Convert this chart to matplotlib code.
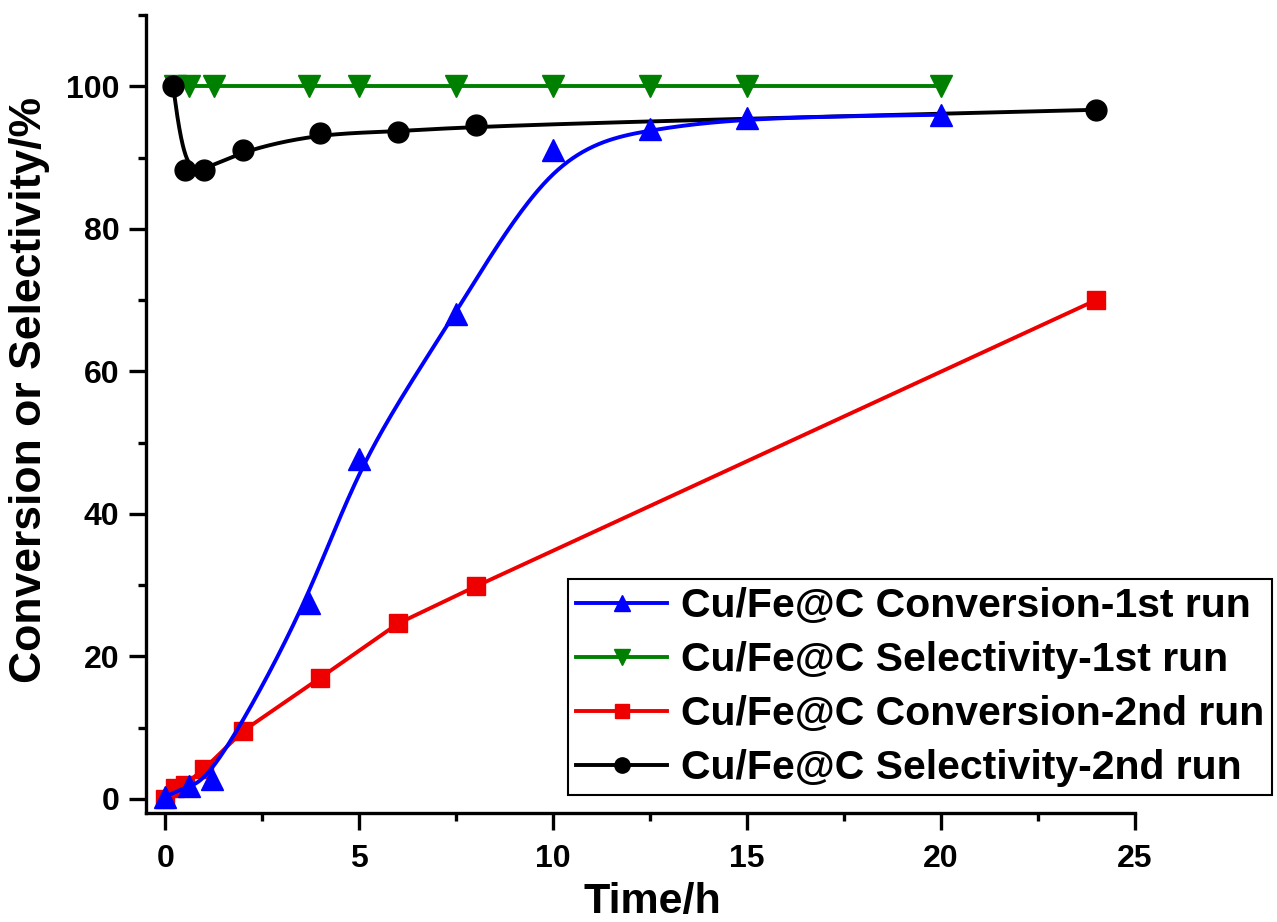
import numpy as np
import matplotlib
matplotlib.use("Agg")
import matplotlib.pyplot as plt
from matplotlib.lines import Line2D

plt.rcParams['font.family'] = ['Liberation Sans', 'DejaVu Sans']
plt.rcParams['font.weight'] = 'bold'

# data
t_conv1 = [0, 0.6, 1.2, 3.7, 5, 7.5, 10, 12.5, 15, 20]
conv1 = [0.3, 1.8, 2.8, 27.5, 47.7, 68, 91, 94, 95.6, 96]

t_sel1 = [0.25, 0.6, 1.25, 3.7, 5, 7.5, 10, 12.5, 15, 20]
sel1 = [100, 100, 100, 100, 100, 100, 100, 100, 100, 100]

t_conv2 = [0, 0.25, 0.5, 1, 2, 4, 6, 8, 24]
conv2 = [0, 1.5, 2.0, 4.2, 9.5, 17, 24.6, 29.8, 70]

t_sel2 = [0.2, 0.5, 1, 2, 4, 6, 8, 24]
sel2 = [100, 88.2, 88.2, 91, 93.4, 93.6, 94.5, 96.7]

labels = ['Cu/Fe@C Conversion-1st run', 'Cu/Fe@C Selectivity-1st run',
          'Cu/Fe@C Conversion-2nd run', 'Cu/Fe@C Selectivity-2nd run']


def bspline(px, py, n=40):
    # clamped uniform cubic B-spline through the end points
    P = np.column_stack([px, py]).astype(float)
    P = np.vstack([P[0], P[0], P, P[-1], P[-1]])
    t = np.linspace(0, 1, n)[:, None]
    b0 = (1 - t) ** 3 / 6
    b1 = (3 * t ** 3 - 6 * t ** 2 + 4) / 6
    b2 = (-3 * t ** 3 + 3 * t ** 2 + 3 * t + 1) / 6
    b3 = t ** 3 / 6
    segs = [b0 * P[i] + b1 * P[i + 1] + b2 * P[i + 2] + b3 * P[i + 3]
            for i in range(len(P) - 3)]
    s = np.vstack(segs)
    return s[:, 0], s[:, 1]


fig = plt.figure(figsize=(12.77, 9.22), dpi=100)
ax = fig.add_axes([0.1143, 0.1182, 0.7745, 0.8655])

lw = 2.8
blue, green, red, black = '#0000ff', '#008000', '#ee0000', '#000000'

# red: plain lines
ax.plot(t_conv2, conv2, color=red, lw=lw, marker='s', ms=13, zorder=2)
# green
ax.plot(t_sel1, sel1, color=green, lw=lw, marker='v', ms=16, zorder=2.5)
# black: smoothed
bx, by = bspline(t_sel2, sel2)
ax.plot(bx, by, color=black, lw=lw, zorder=3)
ax.plot(t_sel2, sel2, color=black, ls='none', marker='o', ms=15, zorder=3)
# blue: smoothed
cx, cy = bspline(t_conv1, conv1)
ax.plot(cx, cy, color=blue, lw=lw, zorder=4)
ax.plot(t_conv1, conv1, color=blue, ls='none', marker='^', ms=16, zorder=4)

ax.set_xlim(-0.5, 25)
ax.set_ylim(-2, 110)
ax.set_xticks(np.arange(0, 26, 5))
ax.set_xticks(np.arange(2.5, 25, 5), minor=True)
ax.set_yticks(np.arange(0, 101, 20))
ax.set_yticks(np.arange(10, 111, 20), minor=True)

for s in ['top', 'right']:
    ax.spines[s].set_visible(False)
for s in ['left', 'bottom']:
    ax.spines[s].set_linewidth(2.4)
ax.tick_params(which='major', direction='out', length=12, width=2.4, labelsize=23, pad=7)
ax.tick_params(which='minor', direction='out', length=6, width=2.4)
ax.tick_params(axis='x', which='major', pad=10)

ax.set_xlabel('Time/h', fontsize=31, fontweight='bold')
ax.set_ylabel('Conversion or Selectivity/%', fontsize=32, fontweight='bold')
ax.xaxis.set_label_coords(0.512, -0.087)
ax.yaxis.set_label_coords(-0.097, 0.53)

handles = [
    Line2D([], [], color=blue, lw=lw, marker='^', ms=12),
    Line2D([], [], color=green, lw=lw, marker='v', ms=12),
    Line2D([], [], color=red, lw=lw, marker='s', ms=10),
    Line2D([], [], color=black, lw=lw, marker='o', ms=11),
]
leg = ax.legend(handles, labels, loc='lower left', bbox_to_anchor=(0.427, 0.022),
                fontsize=29.5, frameon=True, fancybox=False, framealpha=1,
                edgecolor='black', borderpad=0.2, labelspacing=0.39,
                handlelength=2.2, handletextpad=0.35, borderaxespad=0,
                numpoints=1)
leg.get_frame().set_linewidth(1.5)

fig.savefig('out.png', dpi=100)
